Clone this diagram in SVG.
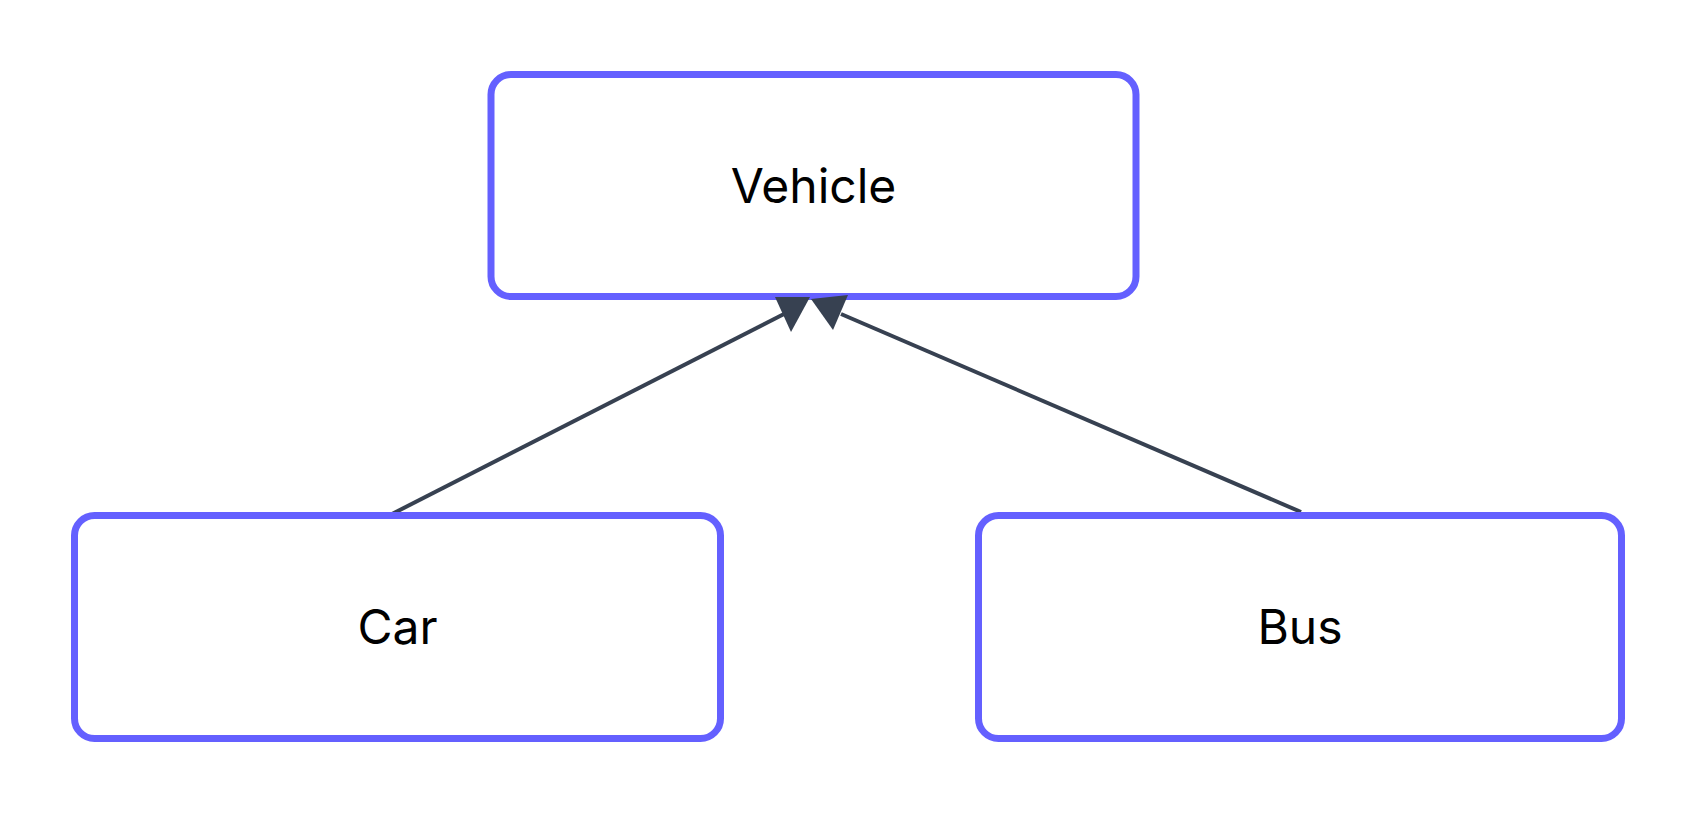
<svg xmlns="http://www.w3.org/2000/svg" width="1697" height="814" viewBox="0 0 1697 814">
<style>
.box{fill:#ffffff;stroke:#6460FF;stroke-width:7}
.lbl{font-family:Inter,"Liberation Sans",sans-serif;font-size:48px;fill:#000000;text-anchor:middle}
.edge{fill:none;stroke:#374151;stroke-width:4}
.head{fill:#374151;stroke:none}
</style>
<rect width="1697" height="814" fill="#ffffff"/>
<g id="connectors">
<line class="edge" x1="392" y1="514" x2="784" y2="314"/>
<line class="edge" x1="1301" y1="512" x2="841" y2="314"/>
</g>
<g id="node-vehicle">
<rect class="box" x="491" y="74.5" width="645" height="222" rx="20" ry="20"/>
<text class="lbl" x="813.5" y="203">Vehicle</text>
</g>
<g id="node-car">
<rect class="box" x="74.5" y="515.5" width="646" height="223" rx="20" ry="20"/>
<text class="lbl" x="397.5" y="644">Car</text>
</g>
<g id="node-bus">
<rect class="box" x="978.5" y="515.5" width="643" height="223" rx="20" ry="20"/>
<text class="lbl" x="1300" y="644">Bus</text>
</g>
<g id="arrowheads">
<polygon class="head" points="775,297 810,297 791,332"/>
<polygon class="head" points="811,299 848,295 833,330"/>
</g>
</svg>
